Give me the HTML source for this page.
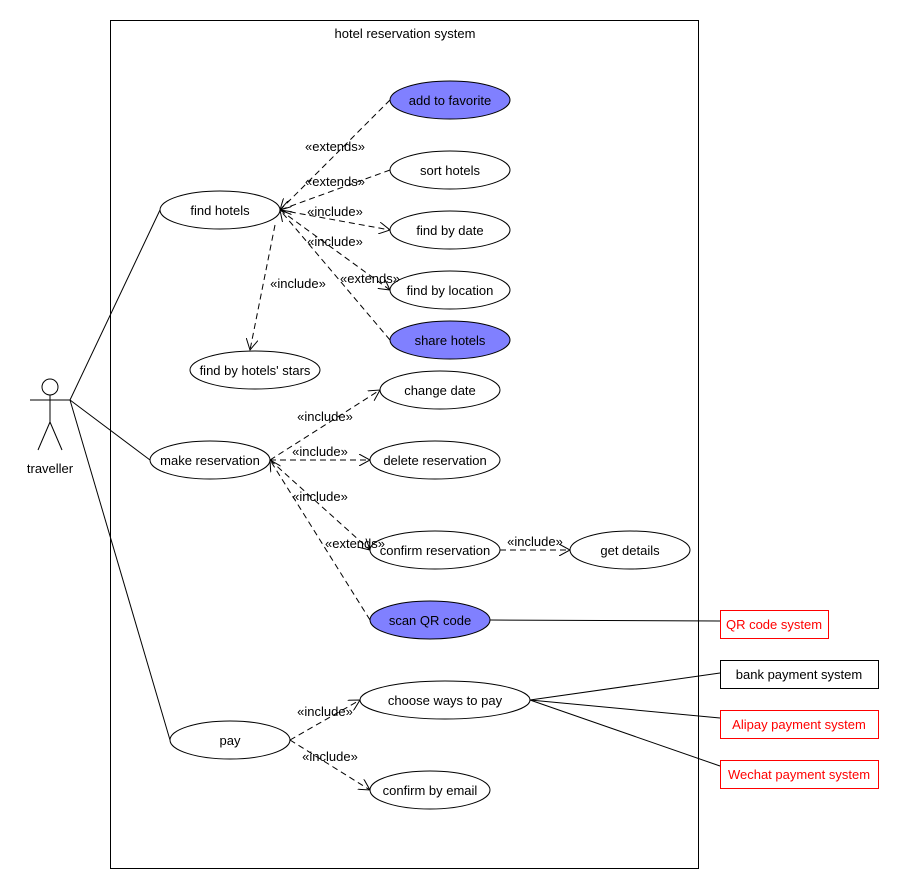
<!DOCTYPE html>
<html><head><meta charset="utf-8"><style>body{margin:0;background:#fff}svg{display:block;font-family:"Liberation Sans",Arial,sans-serif;font-size:13px}</style></head><body>
<svg width="900" height="890" viewBox="0 0 900 890" xmlns="http://www.w3.org/2000/svg">
<defs><marker id="a" viewBox="0 0 12 12" refX="11" refY="6" markerWidth="12" markerHeight="12" orient="auto" markerUnits="userSpaceOnUse"><path d="M0,0 L11,6 L0,12" fill="none" stroke="#000"/></marker></defs>
<rect x="0" y="0" width="900" height="890" fill="#fff"/>
<rect x="110.5" y="20.5" width="588" height="848" fill="none" stroke="#000"/>
<text x="405" y="38" text-anchor="middle">hotel reservation system</text>
<g stroke="#000" fill="none">
<circle cx="50" cy="387" r="8"/>
<line x1="50" y1="395" x2="50" y2="422"/><line x1="30" y1="400" x2="70" y2="400"/>
<line x1="50" y1="422" x2="38" y2="450"/><line x1="50" y1="422" x2="62" y2="450"/>
<line x1="70" y1="400" x2="160" y2="210"/><line x1="70" y1="400" x2="150" y2="460"/><line x1="70" y1="400" x2="170" y2="740"/>
<line x1="490" y1="620" x2="720" y2="621"/>
<line x1="530" y1="700" x2="720" y2="673"/><line x1="530" y1="700" x2="720" y2="718"/><line x1="530" y1="700" x2="720" y2="766"/>
</g>
<text x="50" y="473" text-anchor="middle">traveller</text>
<g stroke="#000" fill="none" stroke-dasharray="6,4" marker-end="url(#a)">
<line x1="390" y1="100" x2="280" y2="210"/>
<line x1="390" y1="170" x2="280" y2="210"/>
<line x1="280" y1="210" x2="390" y2="230"/>
<line x1="280" y1="210" x2="390" y2="290"/>
<line x1="390" y1="340" x2="280" y2="210"/>
<line x1="275" y1="225" x2="250" y2="350"/>
<line x1="270" y1="460" x2="380" y2="390"/>
<line x1="270" y1="460" x2="370" y2="460"/>
<line x1="270" y1="460" x2="370" y2="550"/>
<line x1="370" y1="620" x2="270" y2="460"/>
<line x1="500" y1="550" x2="570" y2="550"/>
<line x1="290" y1="740" x2="360" y2="700"/>
<line x1="290" y1="740" x2="370" y2="790"/>
</g>
<g stroke="#000">
<ellipse cx="450" cy="100" rx="60" ry="19" fill="#8080ff"/>
<ellipse cx="450" cy="170" rx="60" ry="19" fill="#fff"/>
<ellipse cx="450" cy="230" rx="60" ry="19" fill="#fff"/>
<ellipse cx="450" cy="290" rx="60" ry="19" fill="#fff"/>
<ellipse cx="450" cy="340" rx="60" ry="19" fill="#8080ff"/>
<ellipse cx="220" cy="210" rx="60" ry="19" fill="#fff"/>
<ellipse cx="255" cy="370" rx="65" ry="19" fill="#fff"/>
<ellipse cx="440" cy="390" rx="60" ry="19" fill="#fff"/>
<ellipse cx="210" cy="460" rx="60" ry="19" fill="#fff"/>
<ellipse cx="435" cy="460" rx="65" ry="19" fill="#fff"/>
<ellipse cx="435" cy="550" rx="65" ry="19" fill="#fff"/>
<ellipse cx="630" cy="550" rx="60" ry="19" fill="#fff"/>
<ellipse cx="430" cy="620" rx="60" ry="19" fill="#8080ff"/>
<ellipse cx="230" cy="740" rx="60" ry="19" fill="#fff"/>
<ellipse cx="445" cy="700" rx="85" ry="19" fill="#fff"/>
<ellipse cx="430" cy="790" rx="60" ry="19" fill="#fff"/>
</g>
<g text-anchor="middle">
<text x="450" y="105">add to favorite</text>
<text x="450" y="175">sort hotels</text>
<text x="450" y="235">find by date</text>
<text x="450" y="295">find by location</text>
<text x="450" y="345">share hotels</text>
<text x="220" y="215">find hotels</text>
<text x="255" y="375">find by hotels' stars</text>
<text x="440" y="395">change date</text>
<text x="210" y="465">make reservation</text>
<text x="435" y="465">delete reservation</text>
<text x="435" y="555">confirm reservation</text>
<text x="630" y="555">get details</text>
<text x="430" y="625">scan QR code</text>
<text x="230" y="745">pay</text>
<text x="445" y="705">choose ways to pay</text>
<text x="430" y="795">confirm by email</text>
<text x="335" y="151">«extends»</text>
<text x="335" y="186">«extends»</text>
<text x="335" y="216">«include»</text>
<text x="335" y="246">«include»</text>
<text x="370" y="283">«extends»</text>
<text x="298" y="288">«include»</text>
<text x="325" y="421">«include»</text>
<text x="320" y="456">«include»</text>
<text x="320" y="501">«include»</text>
<text x="355" y="548">«extends»</text>
<text x="535" y="546">«include»</text>
<text x="325" y="716">«include»</text>
<text x="330" y="761">«include»</text>
</g>
<rect x="720.5" y="610.5" width="108" height="28" fill="#fff" stroke="#f00"/>
<text x="774" y="629" text-anchor="middle" fill="#f00">QR code system</text>
<rect x="720.5" y="660.5" width="158" height="28" fill="#fff" stroke="#000"/>
<text x="799" y="679" text-anchor="middle">bank payment system</text>
<rect x="720.5" y="710.5" width="158" height="28" fill="#fff" stroke="#f00"/>
<text x="799" y="729" text-anchor="middle" fill="#f00">Alipay payment system</text>
<rect x="720.5" y="760.5" width="158" height="28" fill="#fff" stroke="#f00"/>
<text x="799" y="779" text-anchor="middle" fill="#f00">Wechat payment system</text>
</svg>
</body></html>
